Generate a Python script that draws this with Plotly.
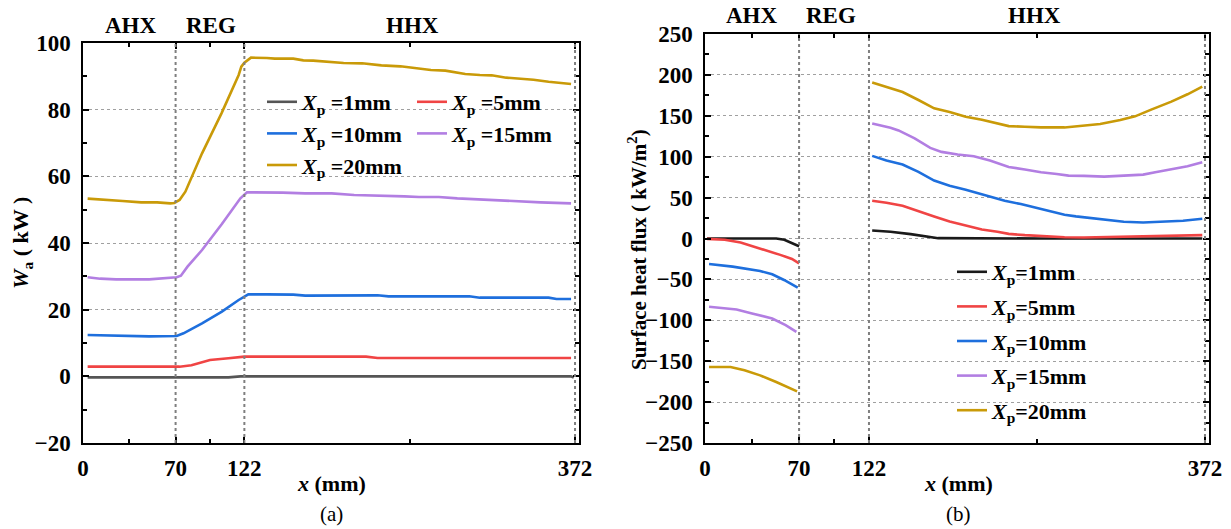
import plotly.graph_objects as go

W, H = 1231, 529
FONT = "Liberation Serif"

# ---------------- Panel (a): W_a (kW) vs x (mm) ----------------
a_x_1mm = [3.5, 60, 110, 119, 200, 300, 369, 371]
a_y_1mm = [-0.3, -0.3, -0.3, 0.0, 0.0, 0.0, 0.0, -0.4]

a_x_5mm = [3.5, 40, 73, 82, 96, 110, 122, 214, 222.7, 300, 369]
a_y_5mm = [2.9, 2.9, 2.9, 3.3, 4.9, 5.4, 5.9, 5.9, 5.5, 5.5, 5.5]

a_x_10mm = [3.5, 15.5, 27, 50, 70.8, 76, 90, 105, 117.7, 125, 139, 159, 168, 222.7, 231, 292, 300, 352, 358, 369]
a_y_10mm = [12.4, 12.3, 12.0, 12.0, 12.1, 12.9, 15.9, 19.4, 22.9, 24.6, 24.6, 24.5, 24.2, 24.3, 24.0, 24.0, 23.6, 23.6, 23.2, 23.2]

a_x_15mm = [3.5, 13, 25, 50, 70.8, 74, 79, 90, 105, 119, 124, 139, 151, 168, 188, 205, 225.6, 243, 254, 269, 283, 297, 312, 326, 346, 369]
a_y_15mm = [29.7, 29.3, 29.1, 29.1, 29.7, 30.2, 32.9, 37.9, 45.7, 53.4, 55.2, 55.2, 55.1, 54.9, 54.9, 54.4, 54.3, 54.0, 53.8, 53.8, 53.4, 53.1, 52.8, 52.5, 52.2, 51.9]

a_x_20mm = [3.5, 21, 30, 44, 56, 66, 69, 73, 77.4, 90, 104.7, 117.7, 119.7, 122, 127, 139, 145, 159, 166.6, 174, 197, 211, 225.6, 240, 254, 263, 274, 289, 300, 309, 320, 340.6, 352, 369]
a_y_20mm = [53.3, 52.7, 52.6, 52.2, 52.2, 51.9, 52.0, 52.9, 55.4, 66.9, 78.9, 90.4, 92.9, 94.1, 95.6, 95.5, 95.3, 95.3, 94.8, 94.7, 94.0, 93.9, 93.3, 93.0, 92.4, 91.9, 91.7, 90.7, 90.4, 90.3, 89.6, 89.0, 88.4, 87.7]

# ---------------- Panel (b): surface heat flux vs x (mm) ----------------
b_x_1mm = [1.5, 30, 53, 59, 70, None, 124.4, 138, 153, 164.6, 173.5, 250, 370]
b_y_1mm = [0, 0, 0, -1.6, -9.4, None, 9.8, 8.2, 5.3, 2.5, 0.4, 0.0, 0.0]

b_x_5mm = [1.5, 14.7, 26.5, 41, 56, 64.7, 70, None,
           124.4, 135, 147, 158.8, 170.5, 182, 194, 206, 217.6, 226, 238, 253, 267.5, 282, 297, 311.6, 341, 370]
b_y_5mm = [-0.4, -1.6, -4.9, -11.9, -20.0, -25.0, -30.4, None,
           46.2, 43.8, 40.1, 34.0, 27.0, 20.9, 16.0, 11.0, 8.2, 5.7, 4.1, 2.5, 1.6, 1.2, 1.6, 2.1, 2.5, 4.1]

b_x_10mm = [3, 20.6, 41, 50, 58.8, 69, None,
            124.4, 135, 147, 158.8, 170.5, 182, 194, 206, 217.6, 223, 235, 247, 258.7, 267.5, 276, 288, 300, 311.6, 326, 341, 355.7, 370]
b_y_10mm = [-31.1, -34.4, -39.7, -43.8, -50.7, -60.1, None,
            101.0, 95.3, 90.4, 81.4, 70.8, 64.6, 59.7, 54.4, 49.5, 46.2, 42.1, 37.2, 32.3, 29.0, 27.0, 25.0, 22.1, 20.5, 19.6, 20.9, 21.7, 24.1]

b_x_15mm = [3, 23.5, 35, 50, 60, 68, None,
            124.4, 138, 144, 156, 167.6, 176, 188, 200, 212, 226, 238, 250, 261.7, 270.5, 282, 297, 311.6, 326, 335, 347, 359, 370]
b_y_15mm = [-83.4, -86.7, -91.6, -97.8, -105.9, -114.1, None,
            140.7, 135.4, 132.1, 122.3, 110.8, 105.9, 102.7, 100.6, 95.3, 87.5, 84.3, 81.0, 78.9, 76.9, 76.5, 75.7, 76.9, 78.1, 81.0, 84.3, 88.3, 93.2]

b_x_20mm = [3, 19, 29.4, 41, 53, 68.5, None,
            124.4, 138, 147, 158.8, 170.5, 182, 194, 206, 217.6, 226, 238, 250, 267.5, 282, 294, 309, 320, 332, 347, 359, 370]
b_y_20mm = [-157.1, -157.1, -161.1, -167.3, -175.5, -186.9, None,
            190.6, 183.6, 179.1, 169.3, 159.1, 154.6, 148.9, 145.2, 140.3, 137.4, 136.6, 135.8, 135.8, 137.8, 139.9, 144.8, 149.3, 157.5, 167.3, 176.3, 185.7]

series_names_a = ["<i>X</i><sub>p</sub> =1mm", "<i>X</i><sub>p</sub> =5mm", "<i>X</i><sub>p</sub> =10mm",
                  "<i>X</i><sub>p</sub> =15mm", "<i>X</i><sub>p</sub> =20mm"]
series_names_b = ["<i>X</i><sub>p</sub>=1mm", "<i>X</i><sub>p</sub>=5mm", "<i>X</i><sub>p</sub>=10mm",
                  "<i>X</i><sub>p</sub>=15mm", "<i>X</i><sub>p</sub>=20mm"]
colors_a = ["#555555", "#F04444", "#1E6FDD", "#B27EE2", "#C99A08"]
colors_b = ["#1a1a1a", "#F04444", "#1E6FDD", "#B27EE2", "#C99A08"]

x_tick_vals = [0, 70, 122, 372]
x_tick_text = ["0", "70", "122", "372"]
x_minor_vals = [35, 96, 247]
boundaries = [70, 122, 372]

fig = go.Figure()

a_data = [(a_x_1mm, a_y_1mm), (a_x_5mm, a_y_5mm), (a_x_10mm, a_y_10mm), (a_x_15mm, a_y_15mm), (a_x_20mm, a_y_20mm)]
legend_a = ["legend", "legend2", "legend", "legend2", "legend"]
for (xs, ys), nm, c, lg in zip(a_data, series_names_a, colors_a, legend_a):
    fig.add_trace(go.Scatter(x=xs, y=ys, mode="lines", name=nm, line=dict(color=c, width=2.6),
                             xaxis="x", yaxis="y", legend=lg))

b_data = [(b_x_1mm, b_y_1mm), (b_x_5mm, b_y_5mm), (b_x_10mm, b_y_10mm), (b_x_15mm, b_y_15mm), (b_x_20mm, b_y_20mm)]
for i, ((xs, ys), nm, c) in enumerate(zip(b_data, series_names_b, colors_b)):
    fig.add_trace(go.Scatter(x=xs, y=ys, mode="lines", name=nm, line=dict(color=c, width=2.6),
                             connectgaps=False, xaxis="x2", yaxis="y2", legend="legend3",
                             legendgroup="g%d" % i))

tickfont = dict(family=FONT, size=23, color="black", weight="bold")

def xaxis_cfg(domain, anchor):
    return dict(domain=domain, anchor=anchor, range=[0, 375], tickmode="array",
                tickvals=x_tick_vals, ticktext=x_tick_text, ticks="inside", ticklen=6, tickwidth=1.5,
                tickcolor="black", showline=True, linecolor="black", linewidth=1.5, mirror="ticks",
                showgrid=False, zeroline=False, tickfont=tickfont, ticklabelstandoff=4,
                automargin=False,
                minor=dict(tickmode="array", tickvals=x_minor_vals, ticks="inside", ticklen=4,
                           tickwidth=1.5, tickcolor="black", showgrid=False))

def yaxis_cfg(domain, anchor, rng, dtick, minor_dtick):
    return dict(domain=domain, anchor=anchor, range=rng, dtick=dtick, tick0=0, ticks="inside",
                ticklen=6, tickwidth=1.5, tickcolor="black", showline=True, linecolor="black",
                linewidth=1.5, mirror="ticks", showgrid=True, gridcolor="#a0a0a0", griddash="dot",
                gridwidth=1, zeroline=False, tickfont=tickfont, ticklabelstandoff=6,
                automargin=False,
                minor=dict(dtick=minor_dtick, ticks="inside", ticklen=4, tickwidth=1.5,
                           tickcolor="black", showgrid=False))

xa_dom = [83 / W, 579 / W]
xb_dom = [705 / W, 1209 / W]
ya_dom = [1 - 443 / H, 1 - 43 / H]
yb_dom = [1 - 443 / H, 1 - 34 / H]

shapes = []
for xr, yr in (("x", "y domain"), ("x2", "y2 domain")):
    for bx in boundaries:
        shapes.append(dict(type="line", xref=xr, yref=yr, x0=bx, x1=bx, y0=0, y1=1,
                           line=dict(color="#7f7f7f", width=2, dash="dot")))

def ann(text, x, y, xref="paper", yref="paper", size=22, bold=True, angle=0):
    return dict(text=text, x=x, y=y, xref=xref, yref=yref, showarrow=False, textangle=angle,
                xanchor="center", yanchor="middle",
                font=dict(family=FONT, size=size, color="black", weight="bold" if bold else "normal"))

annotations = [
    ann("AHX", 36, 1 - 25 / H, xref="x", size=23),
    ann("REG", 97, 1 - 25 / H, xref="x", size=23),
    ann("HHX", 249, 1 - 25 / H, xref="x", size=23),
    ann("AHX", 35, 1 - 16 / H, xref="x2", size=23),
    ann("REG", 94, 1 - 16 / H, xref="x2", size=23),
    ann("HHX", 245, 1 - 16 / H, xref="x2", size=23),
    ann("<i>x</i> (mm)", 331 / W, 1 - 483 / H),
    ann("<i>x</i> (mm)", 958 / W, 1 - 483 / H),
    ann("(a)", 331 / W, 1 - 514 / H, size=21, bold=False),
    ann("(b)", 958 / W, 1 - 514 / H, size=21, bold=False),
    ann("<i>W</i><sub>a</sub> ( kW )", 22 / W, 1 - 243 / H, angle=-90),
    ann("Surface heat flux ( kW/m<sup>2</sup>)", 637 / W, 1 - 250 / H, size=21, angle=-90),
]

legfont = dict(family=FONT, size=22, color="black", weight="bold")

fig.update_layout(
    width=W, height=H, margin=dict(l=0, r=0, t=0, b=0, pad=0, autoexpand=False),
    paper_bgcolor="white", plot_bgcolor="white",
    xaxis=xaxis_cfg(xa_dom, "y"),
    yaxis=yaxis_cfg(ya_dom, "x", [-20, 100], 20, 10),
    xaxis2=xaxis_cfg(xb_dom, "y2"),
    yaxis2=yaxis_cfg(yb_dom, "x2", [-250, 250], 50, 25),
    shapes=shapes, annotations=annotations,
    legend=dict(x=262 / W, y=1 - 81 / H, xanchor="left", yanchor="top", bgcolor="rgba(0,0,0,0)",
                font=legfont, tracegroupgap=0),
    legend2=dict(x=412 / W, y=1 - 81 / H, xanchor="left", yanchor="top", bgcolor="rgba(0,0,0,0)",
                 font=legfont, tracegroupgap=0),
    legend3=dict(x=952 / W, y=1 - 251 / H, xanchor="left", yanchor="top", bgcolor="rgba(0,0,0,0)",
                 font=legfont, tracegroupgap=3),
    showlegend=True,
)

fig.write_html("out.html", config={"displayModeBar": False},
               post_script="document.body.style.margin='0px';document.body.style.overflow='hidden';")
